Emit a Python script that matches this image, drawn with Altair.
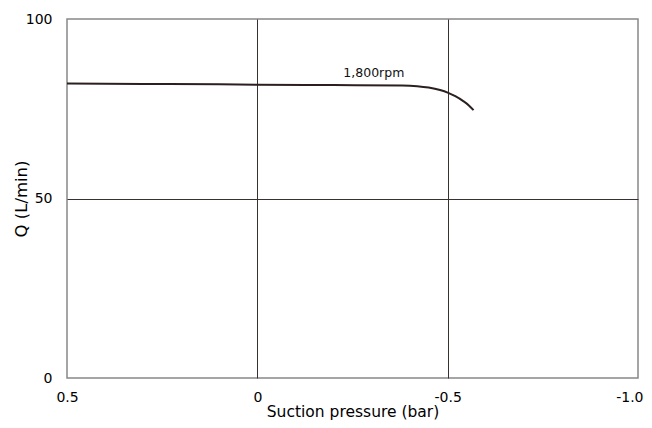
import altair as alt
import pandas as pd

pressure = [0.5, 0.3, 0.1, 0.0, -0.2, -0.38, -0.42, -0.45, -0.48, -0.5, -0.52, -0.54, -0.555, -0.568]
flow = [82.0, 81.9, 81.8, 81.7, 81.6, 81.5, 81.3, 80.9, 80.2, 79.5, 78.5, 77.2, 76.0, 74.6]
label_text = ["1,800rpm"]
label_x = [-0.306]
label_y = [85.0]
x_ticks = [0.5, 0, -0.5, -1.0]
x_tick_labels = ["0.5", "0", "-0.5", "-1.0"]
y_ticks = [0, 50, 100]

df = pd.DataFrame({"p": pressure, "q": flow})
lab = pd.DataFrame({"p": label_x, "q": label_y, "t": label_text})

FONT = "DejaVu Sans"

x_label_expr = " : ".join(
    f"datum.value == {v} ? '{t}'" for v, t in zip(x_ticks, x_tick_labels)
) + " : datum.label"

x = alt.X("p:Q", scale=alt.Scale(domain=[-1.0, 0.5], reverse=True, nice=False, zero=False),
          axis=alt.Axis(values=x_ticks, title="Suction pressure (bar)",
                        labelExpr=x_label_expr, labelFlush=False,
                        labelAlign={"condition": {"test": "datum.value == -1", "value": "right"}, "value": "center"},
                        labelOffset={"condition": {"test": "datum.value == -1", "value": 5}, "value": 0},
                        domain=False, ticks=False, labelPadding=12, labelFontSize=14,
                        titleFontSize=15.5, titleFontWeight="normal",
                        titleBaseline="alphabetic", titleY=38,
                        labelFont=FONT, titleFont=FONT, labelColor="#000", titleColor="#000",
                        grid=True, gridColor="#3a3030", gridWidth=1,
                        gridOpacity={"condition": {"test": "datum.value == 0.5 || datum.value == -1", "value": 0}, "value": 1}))
y = alt.Y("q:Q", scale=alt.Scale(domain=[0, 100], nice=False),
          axis=alt.Axis(values=y_ticks, title="Q (L/min)", domain=False, ticks=False,
                        labelPadding=15, labelFontSize=14, titleFontSize=16.5, labelFlush=False,
                        titleFontWeight="normal", titlePadding=-4,
                        labelFont=FONT, titleFont=FONT, labelColor="#000", titleColor="#000",
                        grid=True, gridColor="#3a3030", gridWidth=1,
                        gridOpacity={"condition": {"test": "datum.value == 0 || datum.value == 100", "value": 0}, "value": 1}))

line = alt.Chart(df).mark_line(color="#2b1f1f", strokeWidth=2, interpolate="monotone").encode(x=x, y=y)
text = alt.Chart(lab).mark_text(font=FONT, fontSize=12.5, color="#111").encode(
    x=alt.X("p:Q"), y=alt.Y("q:Q"), text="t:N")

chart = (line + text).properties(
    width=571, height=359,
    autosize=alt.AutoSizeParams(type="none"),
    padding={"left": 59, "top": 11, "right": 6, "bottom": 42},
).configure_view(stroke="#888888", strokeWidth=1.5)

chart.save("out.html", embed_options={"renderer": "svg", "actions": False})
